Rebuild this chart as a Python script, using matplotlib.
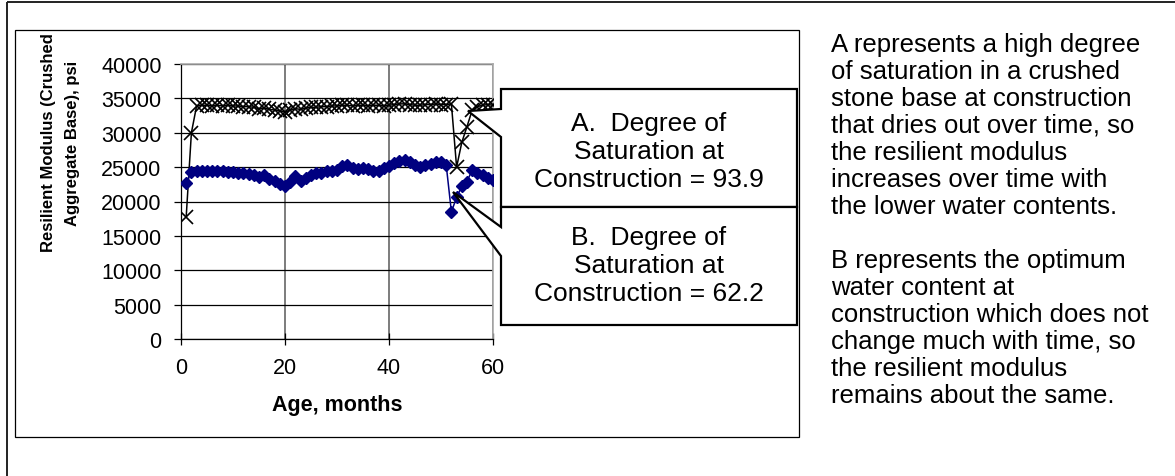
import numpy as np
import matplotlib
matplotlib.use("Agg")
import matplotlib.pyplot as plt
from matplotlib.patches import Polygon, Rectangle
from matplotlib.transforms import Affine2D

plt.rcParams['font.family'] = ['Liberation Sans', 'DejaVu Sans']

# resilient modulus of the crushed aggregate base, psi, by month
months = np.arange(1, 61)
mr_sat_939 = [17800, 30000, 33900, 34000, 34000, 33900, 34000, 33900, 34000, 33900,
              33900, 33800, 33800, 33700, 33500, 33600, 33400, 33300, 33200, 33000,
              33300, 33500, 33400, 33600, 33700, 33700, 33800, 33800, 33900, 33900,
              34000, 34000, 33900, 34000, 34000, 33900, 34000, 34000, 33900, 34000,
              34100, 34200, 34200, 34100, 34000, 34000, 34100, 34100, 34200, 34100,
              34100, 34200, 25000, 28600, 30900, 33300, 33800, 34000, 34100, 34000]
mr_sat_622 = [22700, 24300, 24400, 24400, 24500, 24400, 24400, 24400, 24300, 24300,
              24200, 24200, 24000, 23900, 23500, 23800, 23300, 23000, 22600, 22200,
              22900, 23700, 23000, 23400, 23800, 24200, 24200, 24400, 24500, 24600,
              25100, 25300, 24900, 24700, 24900, 24800, 24400, 24500, 24900, 25200,
              25600, 25900, 26100, 25700, 25300, 25000, 25300, 25500, 25800, 25700,
              25300, 18500, 20600, 22200, 22900, 24600, 24200, 23900, 23400, 23100]

x_ticks = [0, 20, 40, 60]
y_ticks = list(range(0, 40001, 5000))

callout_a = "A.  Degree of\nSaturation at\nConstruction = 93.9"
callout_b = "B.  Degree of\nSaturation at\nConstruction = 62.2"
note_lines = ["A represents a high degree",
              "of saturation in a crushed",
              "stone base at construction",
              "that dries out over time, so",
              "the resilient modulus",
              "increases over time with",
              "the lower water contents.",
              "",
              "B represents the optimum",
              "water content at",
              "construction which does not",
              "change much with time, so",
              "the resilient modulus",
              "remains about the same."]

W, H = 1175, 477
fig = plt.figure(figsize=(W / 100, H / 100), dpi=100)
# pixel coordinates measured from the top-left corner
px = Affine2D().scale(1 / W, -1 / H).translate(0, 1) + fig.transFigure

# frames
fig.add_artist(Rectangle((6.5, 3), 1200, 600, fill=False, ec='#222222', lw=1.4,
                         transform=px, zorder=0))
fig.add_artist(Rectangle((15, 31), 784, 407, fill=False, ec='black', lw=0.9,
                         transform=px, zorder=0))

left, right, top, bottom = 181, 493, 65, 340
ax = fig.add_axes([left / W, 1 - bottom / H, (right - left) / W, (bottom - top) / H])
ax.plot(months, mr_sat_939, color='black', lw=1.1, marker='x', ms=10.5, mew=1.2, zorder=3)
ax.plot(months, mr_sat_622, color='#000080', lw=1.1, marker='D', ms=6, mec='#000080', zorder=3)

ax.set_xlim(0, 60)
ax.set_ylim(0, 40000)
ax.set_xticks(x_ticks)
ax.set_yticks(y_ticks)
ax.yaxis.grid(True, color='black', lw=0.9)
ax.xaxis.grid(True, color='#666666', lw=1.2)
ax.set_axisbelow(True)
for side in ['top', 'right']:
    ax.spines[side].set_color('#aaaaaa')
    ax.spines[side].set_linewidth(1.2)
for side in ['left', 'bottom']:
    ax.spines[side].set_color('black')
    ax.spines[side].set_linewidth(0.9)
ax.tick_params(axis='y', direction='out', length=5, width=0.9, pad=9, labelsize=15.5)
ax.tick_params(axis='x', direction='inout', length=8, width=0.9, pad=9, labelsize=15.5)

fig.text(337 / W, 1 - 405 / H, "Age, months", ha='center', va='center',
         fontsize=15.5, fontweight='bold')
fig.text(60.5 / W, 1 - 143 / H, "Resilient Modulus (Crushed\nAggregate Base), psi",
         ha='center', va='center', rotation=90, fontsize=12, fontweight='bold',
         linespacing=1.75)

# callout boxes pointing at the two series
shape_a = [(501, 90), (797, 90), (797, 208), (501, 208), (501, 138), (468, 112), (501, 110)]
shape_b = [(501, 208), (797, 208), (797, 326), (501, 326), (501, 257), (453, 193), (501, 228)]
for shape in [shape_a, shape_b]:
    fig.add_artist(Polygon(shape, closed=True, fc='white', ec='black', lw=1.6,
                           transform=px, zorder=5))
fig.text(649 / W, 1 - 152 / H, callout_a, ha='center', va='center', fontsize=19,
         linespacing=1.22, zorder=6)
fig.text(649 / W, 1 - 266 / H, callout_b, ha='center', va='center', fontsize=19,
         linespacing=1.22, zorder=6)

for i, line in enumerate(note_lines):
    fig.text(831 / W, 1 - (45 + 27 * i) / H, line, ha='left', va='center', fontsize=18.5)

fig.savefig("out.png", dpi=100)
